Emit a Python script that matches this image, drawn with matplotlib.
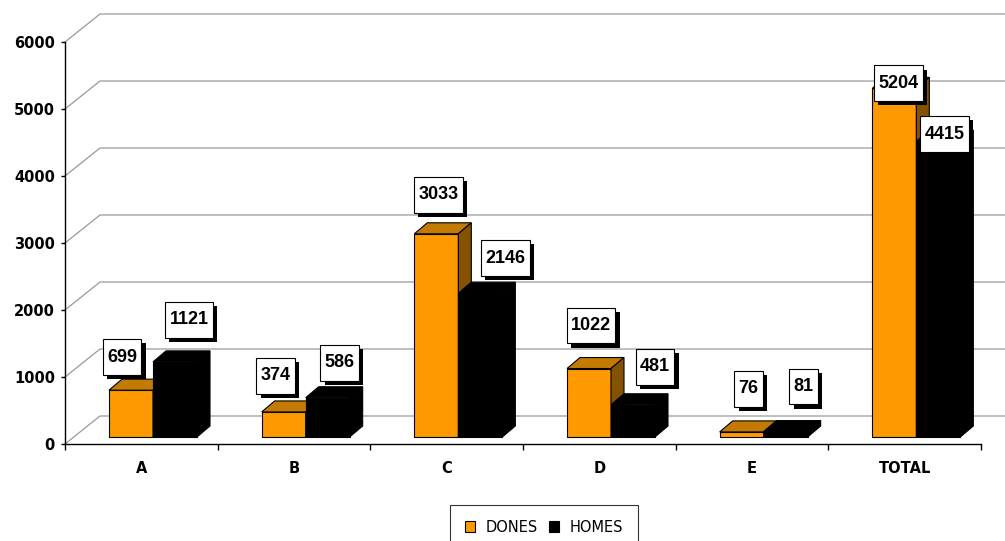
import matplotlib
matplotlib.use("Agg")
import matplotlib.pyplot as plt
from matplotlib import transforms
from matplotlib.patches import Polygon, Patch
from matplotlib.path import Path
import matplotlib.patheffects as pe

# ---------------- data ----------------
categories = ["A", "B", "C", "D", "E", "TOTAL"]
dones = [699, 374, 3033, 1022, 76, 5204]
homes = [1121, 586, 2146, 481, 81, 4415]
series_names = ["DONES", "HOMES"]
y_ticks = [0, 1000, 2000, 3000, 4000, 5000, 6000]

# ---------------- style / layout ----------------
W, H = 1005, 541
ORANGE_FRONT = "#FF9900"
ORANGE_TOP = "#C27A00"
ORANGE_SIDE = "#855300"
BLACK = "#000000"
GRID = "#999999"

# label offsets in pixels (dx from bar-face centre, lift above bar top)
label_off_dones = [(-9, 33), (-8, 36), (2, 39), (2, 43), (7, 43), (4, 5)]
label_off_homes = [(14, 42), (12, 35), (25, 35), (22, 38), (18, 45), (6, 7)]

fig = plt.figure(figsize=(W / 100, H / 100), dpi=100)
ax = fig.add_axes([65 / W, (H - 444) / H, 916 / W, (444 - 42) / H])
ax.set_xlim(-0.5, len(categories) - 0.5)
ax.set_ylim(0, 6000)

px_x = len(categories) / 916.0      # data units per pixel (x)
px_y = 6000 / 402.0                 # data units per pixel (y)

# bars sit slightly behind the front plane
bar_trans = transforms.offset_copy(ax.transData, fig=fig, x=0, y=7, units="dots")

# ---------------- back wall grid ----------------
WALL_DX = 35 * px_x
WALL_DY = 28 * px_y
for v in y_ticks:
    ax.plot([-0.5, -0.5 + WALL_DX, len(categories) + 1],
            [v, v + WALL_DY, v + WALL_DY],
            color=GRID, lw=0.9, clip_on=False, zorder=0.5)

# ---------------- 3D bars ----------------
BW = 44 * px_x
DX = 13 * px_x
DY = 11 * px_y
x_or = [i - 0.5 + 44 * px_x for i in range(len(categories))]
x_bk = [x + BW for x in x_or]


def draw_bar(x0, h, front, top, side, z):
    ax.bar(x0, h, width=BW, bottom=0, align="edge", color=front,
           edgecolor="black", linewidth=0.8, transform=bar_trans, zorder=z)
    top_poly = Polygon([(x0, h), (x0 + DX, h + DY), (x0 + BW + DX, h + DY), (x0 + BW, h)],
                       closed=True, facecolor=top, edgecolor="black", lw=0.8,
                       transform=bar_trans, zorder=z)
    side_poly = Polygon([(x0 + BW, 0), (x0 + BW + DX, DY), (x0 + BW + DX, h + DY), (x0 + BW, h)],
                        closed=True, facecolor=side, edgecolor="black", lw=0.8,
                        transform=bar_trans, zorder=z)
    ax.add_patch(top_poly)
    ax.add_patch(side_poly)


for i in range(len(categories)):
    draw_bar(x_or[i], dones[i], ORANGE_FRONT, ORANGE_TOP, ORANGE_SIDE, 2 + i * 0.1)
    draw_bar(x_bk[i], homes[i], BLACK, BLACK, BLACK, 2.05 + i * 0.1)

# ---------------- value labels ----------------
label_font = dict(family="Liberation Sans", weight="bold", size=13)
shadow = [pe.SimplePatchShadow(offset=(3, -3), shadow_rgbFace="black", alpha=1.0),
          pe.Normal()]


def label_box(x0, y0, width, height, mutation_size):
    padx = 0.24 * mutation_size
    pady = 0.52 * mutation_size
    x0, y0 = x0 - padx, y0 - pady
    x1, y1 = x0 + width + 2 * padx, y0 + height + 2 * pady
    return Path([(x0, y0), (x1, y0), (x1, y1), (x0, y1), (x0, y0)], closed=True)


def draw_label(xc, v, off):
    dx, lift = off
    t = ax.annotate(str(v), xy=(xc, v), xycoords=bar_trans,
                    xytext=(dx, lift), textcoords="offset pixels",
                    ha="center", va="center", color="black", **label_font,
                    bbox=dict(boxstyle=label_box, fc="white", ec="black", lw=0.8),
                    zorder=11, annotation_clip=False)
    t.get_bbox_patch().set_path_effects(shadow)


for i in range(len(categories)):
    draw_label(x_or[i] + BW / 2, dones[i], label_off_dones[i])
    draw_label(x_bk[i] + BW / 2, homes[i], label_off_homes[i])

# ---------------- axes ----------------
for s in ["top", "right"]:
    ax.spines[s].set_visible(False)
for s in ["left", "bottom"]:
    ax.spines[s].set_color("black")
    ax.spines[s].set_linewidth(1.0)
    ax.spines[s].set_zorder(3)

ax.set_yticks(y_ticks)
ax.set_yticklabels([str(t) for t in y_ticks], fontfamily="DejaVu Sans",
                   fontweight="bold", fontsize=10.5)
ax.tick_params(axis="y", direction="out", length=3, width=1, pad=4.3)

ax.set_xticks([i - 0.5 for i in range(len(categories) + 1)])
ax.set_xticklabels([])
ax.set_xticks(list(range(len(categories))), minor=True)
ax.set_xticklabels(categories, minor=True, fontfamily="DejaVu Sans",
                   fontweight="bold", fontsize=10.5)
ax.tick_params(axis="x", which="major", direction="out", length=4, width=1)
ax.tick_params(axis="x", which="minor", length=0, pad=12)
ax.patch.set_visible(False)

# ---------------- legend ----------------
handles = [Patch(facecolor=ORANGE_FRONT, edgecolor="black", lw=0.8),
           Patch(facecolor=BLACK, edgecolor="black", lw=0.8)]
leg = fig.legend(handles, series_names, loc="upper center",
                 bbox_to_anchor=(544 / W, 1 - 505 / H), ncol=2,
                 frameon=True, fancybox=False, shadow=False,
                 prop=dict(family="DejaVu Sans", size=10.5),
                 handlelength=0.7, handleheight=0.7, handletextpad=0.7,
                 columnspacing=0.8, borderpad=1.0, borderaxespad=0)
leg.get_frame().set_edgecolor("black")
leg.get_frame().set_linewidth(0.8)

fig.savefig("out.png", dpi=100, facecolor="white")
